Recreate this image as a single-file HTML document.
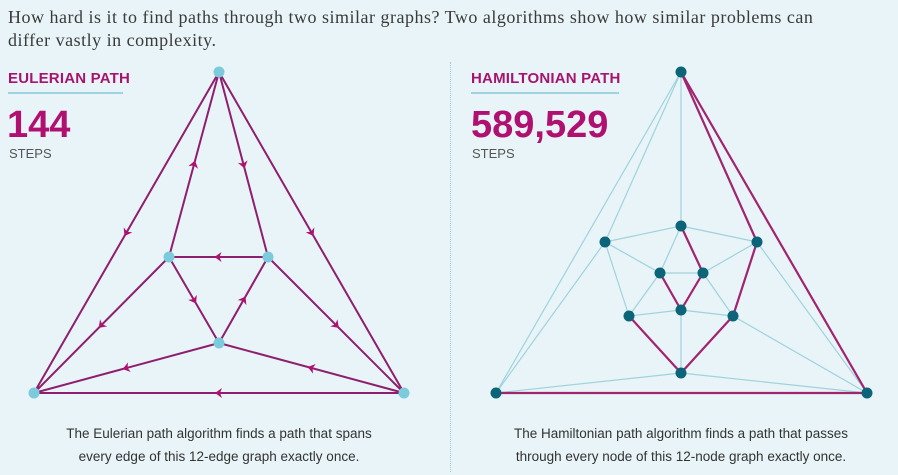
<!DOCTYPE html>
<html><head><meta charset="utf-8"><style>
html,body{margin:0;padding:0;background:#e8f4f7;}
body{width:898px;height:475px;position:relative;overflow:hidden;font-family:"Liberation Sans",sans-serif;}
.intro{position:absolute;left:8px;top:6px;width:845px;font-family:"Liberation Serif",serif;font-size:18px;letter-spacing:0.5px;line-height:23px;color:#3a3a3a;}
.hdr{position:absolute;font-size:15px;font-weight:bold;color:#a8136e;letter-spacing:0.2px;}
.rule{position:absolute;height:1.5px;background:#9fd3df;}
.big{position:absolute;font-size:38px;font-weight:bold;color:#b0106f;}
.steps{position:absolute;font-size:13px;color:#555;}
.cap{position:absolute;text-align:center;font-size:13.5px;line-height:23px;color:#333;}
</style></head><body>
<div class="intro">How hard is it to find paths through two similar graphs? Two algorithms show how similar problems can differ vastly in complexity.</div>
<div class="hdr" style="left:8px;top:70px">EULERIAN PATH</div>
<div class="rule" style="left:8px;top:92px;width:115px"></div>
<div class="big" style="left:7px;top:104px">144</div>
<div class="steps" style="left:9px;top:146px">STEPS</div>
<div class="hdr" style="left:471px;top:70px">HAMILTONIAN PATH</div>
<div class="rule" style="left:471px;top:92px;width:148px"></div>
<div class="big" style="left:471px;top:104px">589,529</div>
<div class="steps" style="left:472px;top:146px">STEPS</div>
<div style="position:absolute;left:450px;top:62px;height:410px;border-left:1px dotted #9fc9d4"></div>
<svg id="g" width="898" height="475" style="position:absolute;left:0;top:0"></svg>
<div class="cap" style="left:50px;width:338px;top:422px">The Eulerian path algorithm finds a path that spans every edge of this 12-edge graph exactly once.</div>
<div class="cap" style="left:495px;width:372px;top:422px">The Hamiltonian path algorithm finds a path that passes through every node of this 12-node graph exactly once.</div>
<script>
const eNodes=[[219,72],[169,257],[268,257],[219,343],[34,393],[404,393]];
const eEdges=[[0,4],[1,0],[0,2],[0,5],[2,1],[1,3],[3,2],[1,4],[2,5],[3,4],[5,3],[5,4]];
const hNodes=[[681,72],[605,242],[681,226],[757,242],[660,273],[703,273],[629,316],[681,310],[733,316],[681,373],[496,393],[867,393]];
const hEdges=[[0,10],[0,1],[0,2],[0,3],[0,11],[1,2],[2,3],[1,4],[1,6],[1,10],[2,4],[2,5],[3,5],[3,8],[3,11],[4,5],[4,7],[4,6],[5,7],[5,8],[6,7],[6,9],[7,8],[7,9],[8,9],[8,11],[9,10],[9,11],[10,11]];
const hPath=[[10,11],[11,0],[0,3],[3,8],[8,9],[9,6],[4,7],[7,5],[5,2]];
const svg=document.getElementById('g');const NS='http://www.w3.org/2000/svg';
function mk(t,a){const e=document.createElementNS(NS,t);for(const k in a)e.setAttribute(k,a[k]);svg.appendChild(e);return e;}
eEdges.forEach(([a,b],i)=>{const[x1,y1]=eNodes[a],[x2,y2]=eNodes[b];
 const l=mk('line',{x1,y1,x2,y2,stroke:'#8e1e6e','stroke-width':2});
 
 
 const mx=(x1+x2)/2,my=(y1+y2)/2,ang=Math.atan2(y2-y1,x2-x1)*180/Math.PI;
 const ar=mk('path',{d:'M4,0 L-3,-5 L-1,0 L-3,5 Z',fill:'#b0106f',transform:`translate(${mx},${my}) rotate(${ang})`});
 
 });
eNodes.forEach(([x,y])=>{const c=mk('circle',{cx:x,cy:y,r:5.5,fill:'#7ccbdc'});
 
 });
hEdges.forEach(([a,b])=>{const[x1,y1]=hNodes[a],[x2,y2]=hNodes[b];
 const l=mk('line',{x1,y1,x2,y2,stroke:'#9fd3dc','stroke-width':1.2});
 
 });
hPath.forEach(([a,b])=>{const[x1,y1]=hNodes[a],[x2,y2]=hNodes[b];
 const l=mk('line',{x1,y1,x2,y2,stroke:'#a0246f','stroke-width':2.2});
 
 });
hNodes.forEach(([x,y])=>{const c=mk('circle',{cx:x,cy:y,r:5.5,fill:'#0c6478'});
 
 });
</script>
</body></html>
